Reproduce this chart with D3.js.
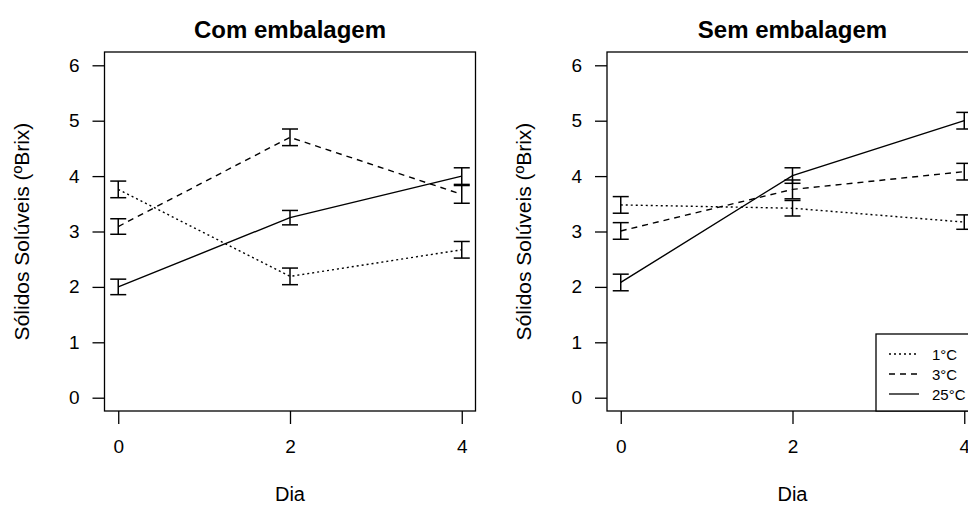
<!DOCTYPE html>
<html>
<head>
<meta charset="utf-8">
<style>
  body{ margin:0; background:#fff; }
  text{ font-family:"Liberation Sans", Arial, sans-serif; fill:#000; }
</style>
<script src="https://d3js.org/d3.v7.min.js"></script>
</head>
<body>
<svg id="chart" width="968" height="506"></svg>
<script>
// days on x axis
let days = [0, 2, 4];
let yTicks = [0, 1, 2, 3, 4, 5, 6];
let seriesNames = ["1°C", "3°C", "25°C"];
let panelTitles = ["Com embalagem", "Sem embalagem"];

// Com embalagem: means and half-width of error bars
let com1 = [3.76, 2.19, 2.67];
let com1err = [0.15, 0.15, 0.15];
let com3 = [3.09, 4.70, 3.67];
let com3err = [0.14, 0.15, 0.16];
let com25 = [2.00, 3.25, 4.00];
let com25err = [0.14, 0.13, 0.15];

// Sem embalagem
let sem1 = [3.48, 3.42, 3.17];
let sem1err = [0.15, 0.14, 0.13];
let sem3 = [3.01, 3.76, 4.08];
let sem3err = [0.15, 0.17, 0.15];
let sem25 = [2.08, 4.01, 5.00];
let sem25err = [0.15, 0.14, 0.15];

let dashes = ["2,3", "6,5", null];

let panels = [
  {title: panelTitles[0], left: 104.5, means: [com1, com3, com25], errs: [com1err, com3err, com25err]},
  {title: panelTitles[1], left: 607, means: [sem1, sem3, sem25], errs: [sem1err, sem3err, sem25err]}
];

let svg = d3.select("#chart");
let plotTop = 52, plotBottom = 411, plotW = 371;

let y = d3.scaleLinear().domain([-0.24, 6.24]).range([plotBottom, plotTop]);

panels.forEach(function(p, pi){
  let x = d3.scaleLinear().domain([-0.16, 4.16]).range([p.left, p.left + plotW]);
  let g = svg.append("g");

  // axes
  let ax = g.append("g").attr("transform", "translate(0," + plotBottom + ")")
    .call(d3.axisBottom(x).tickValues(days).tickSize(13).tickPadding(16).tickFormat(d3.format("d")));
  let ay = g.append("g").attr("transform", "translate(" + p.left + ",0)")
    .call(d3.axisLeft(y).tickValues(yTicks).tickSize(12).tickPadding(13).tickFormat(d3.format("d")));
  [ax, ay].forEach(function(a){
    a.select(".domain").remove();
    a.selectAll("line").attr("stroke", "#000").attr("stroke-width", 1.3);
    a.selectAll("text").style("font-size", "19px").attr("fill", "#000");
  });

  // box
  g.append("rect").attr("x", p.left).attr("y", plotTop).attr("width", plotW).attr("height", plotBottom - plotTop)
    .attr("fill", "none").attr("stroke", "#000").attr("stroke-width", 1.3);

  // lines + error bars
  p.means.forEach(function(m, si){
    let pts = days.map(function(d, i){ return {d: d, v: m[i], e: p.errs[si][i]}; });
    let line = d3.line().x(function(d){ return x(d.d); }).y(function(d){ return y(d.v); });
    g.append("path").datum(pts).attr("d", line).attr("fill", "none")
      .attr("stroke", "#000").attr("stroke-width", 1.4)
      .attr("stroke-dasharray", dashes[si]);
    pts.forEach(function(d){
      let cx = x(d.d), y1 = y(d.v + d.e), y2 = y(d.v - d.e);
      g.append("line").attr("x1", cx).attr("x2", cx).attr("y1", y1).attr("y2", y2)
        .attr("stroke", "#000").attr("stroke-width", 1.5);
      [y1, y2].forEach(function(yy){
        g.append("line").attr("x1", cx - 8).attr("x2", cx + 8).attr("y1", yy).attr("y2", yy)
          .attr("stroke", "#000").attr("stroke-width", 1.5);
      });
    });
  });

  // title
  g.append("text").attr("x", p.left + plotW / 2).attr("y", 38).attr("text-anchor", "middle")
    .style("font-size", "24px").style("font-weight", "bold").text(p.title);
  // x label
  g.append("text").attr("x", x(2)).attr("y", 501).attr("text-anchor", "middle")
    .style("font-size", "20px").text("Dia");
  // y label
  g.append("text").attr("transform", "translate(" + (p.left - 76) + "," + ((plotTop + plotBottom) / 2) + ") rotate(-90)")
    .attr("text-anchor", "middle").style("font-size", "21px").text("Sólidos Solúveis (ºBrix)");

  // legend in second panel
  if (pi == 1) {
    let lg = g.append("g");
    lg.append("rect").attr("x", 876).attr("y", 334).attr("width", 140).attr("height", plotBottom - 334)
      .attr("fill", "#fff").attr("stroke", "#000").attr("stroke-width", 1.3);
    seriesNames.forEach(function(s, i){
      let ly = 354 + i * 20;
      lg.append("line").attr("x1", 889).attr("x2", 919).attr("y1", ly).attr("y2", ly)
        .attr("stroke", "#000").attr("stroke-width", 1.3).attr("stroke-dasharray", dashes[i]);
      lg.append("text").attr("x", 932).attr("y", ly + 6).style("font-size", "15px").text(s);
    });
  }
});
</script>
</body>
</html>
